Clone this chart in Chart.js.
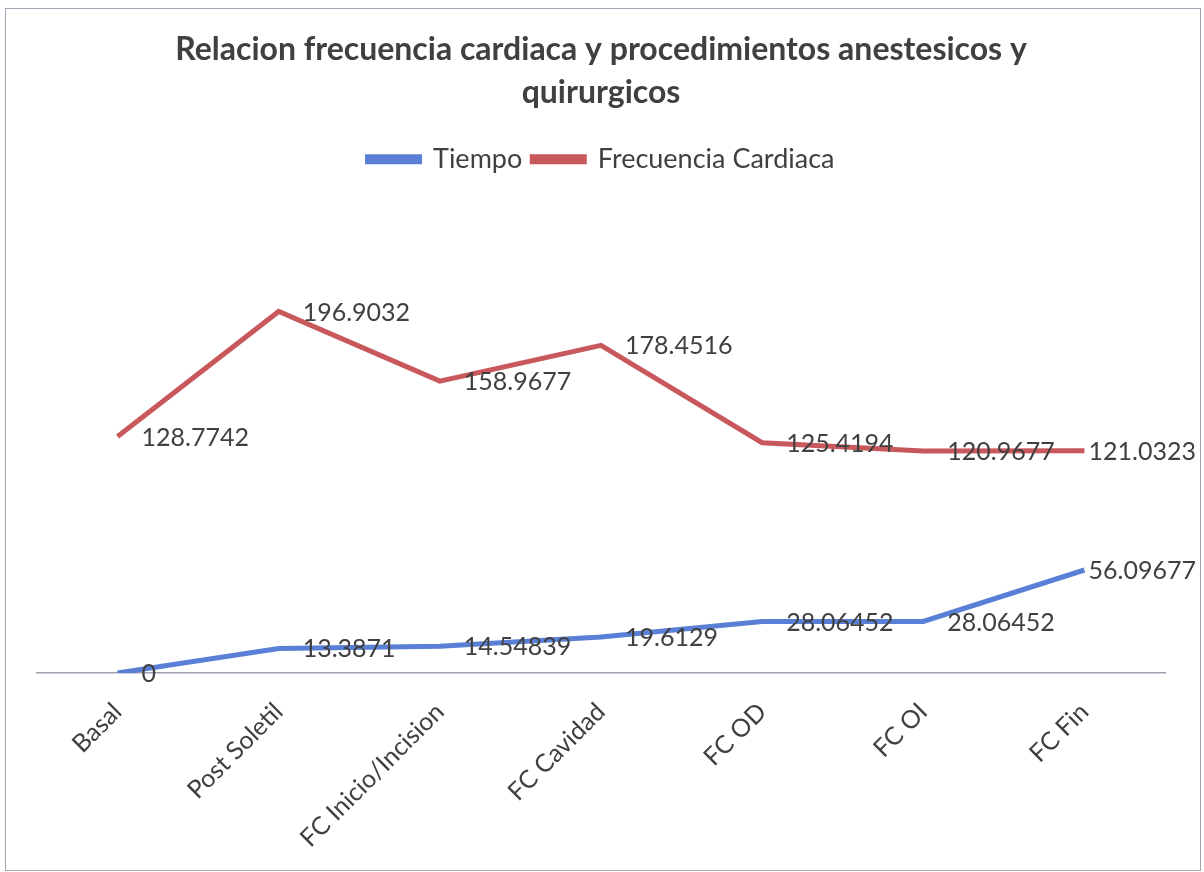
<!DOCTYPE html>
<html>
<head>
<meta charset="utf-8">
<script src="https://cdn.jsdelivr.net/npm/chart.js@4.4.1/dist/chart.umd.min.js"></script>
<style>
  html, body { margin: 0; padding: 0; background: #ffffff; }
  #wrap { position: relative; width: 1204px; height: 872px; }
  #frame { position: absolute; left: 5px; top: 8px; width: 1194px; height: 861px;
           border: 1.5px solid #a4a4b4; pointer-events: none; }
  canvas { position: absolute; left: 0; top: 0; }
</style>
</head>
<body>
<div id="wrap">
  <canvas id="c" width="1204" height="872"></canvas>
  <div id="frame"></div>
</div>
<script>
const categories = ["Basal", "Post Soletil", "FC Inicio/Incision", "FC Cavidad", "FC OD", "FC OI", "FC Fin"];
const tiempo = [0, 13.3871, 14.54839, 19.6129, 28.06452, 28.06452, 56.09677];
const frecuenciaCardiaca = [128.7742, 196.9032, 158.9677, 178.4516, 125.4194, 120.9677, 121.0323];
const tiempoLabels = ["0", "13.3871", "14.54839", "19.6129", "28.06452", "28.06452", "56.09677"];
const frecuenciaLabels = ["128.7742", "196.9032", "158.9677", "178.4516", "125.4194", "120.9677", "121.0323"];
const titleLines = ["Relacion frecuencia cardiaca y procedimientos anestesicos y", "quirurgicos"];

const FONT = "Lato, 'Open Sans', sans-serif";
const TEXT = "#404040";

const dataLabelPlugin = {
  id: "dataLabels",
  afterDatasetsDraw(chart) {
    const ctx = chart.ctx;
    const sets = [tiempoLabels, frecuenciaLabels];
    const rightLimit = chart.width - 8;
    ctx.save();
    ctx.font = "25px " + FONT;
    ctx.fillStyle = TEXT;
    ctx.textAlign = "left";
    ctx.textBaseline = "middle";
    chart.data.datasets.forEach((ds, i) => {
      const meta = chart.getDatasetMeta(i);
      meta.data.forEach((el, j) => {
        const t = sets[i][j];
        const w = ctx.measureText(t).width;
        const x = Math.min(el.x + 24, rightLimit - w);
        ctx.fillText(t, x, el.y + 1);
      });
    });
    ctx.restore();
  }
};

new Chart(document.getElementById("c"), {
  type: "line",
  data: {
    labels: categories,
    datasets: [
      { label: "Tiempo", data: tiempo, borderColor: "#5a7fd6", backgroundColor: "#5a7fd6",
        borderWidth: 5, pointRadius: 0, tension: 0 },
      { label: "Frecuencia Cardiaca", data: frecuenciaCardiaca, borderColor: "#c8585c", backgroundColor: "#c8585c",
        borderWidth: 5, pointRadius: 0, tension: 0 }
    ]
  },
  options: {
    responsive: false,
    animation: false,
    layout: { padding: { left: 37, right: 39, top: 0, bottom: 0 } },
    plugins: {
      title: {
        display: true,
        text: titleLines,
        color: TEXT,
        font: { family: FONT, size: 32, weight: "bold", lineHeight: 1.34 },
        padding: { top: 28, bottom: 22 }
      },
      legend: {
        display: true,
        position: "top",
        labels: {
          color: TEXT,
          font: { family: FONT, size: 27 },
          boxWidth: 52,
          boxHeight: 5,
          padding: 10
        }
      },
      tooltip: { enabled: false }
    },
    scales: {
      x: {
        offset: true,
        grid: { display: false },
        border: { display: true, color: "#a0a0b0", width: 1.5 },
        ticks: {
          color: TEXT,
          font: { family: FONT, size: 25 },
          minRotation: 45,
          maxRotation: 45,
          padding: 16
        },
        afterFit(scale) { scale.height = 199; }
      },
      y: {
        display: false,
        min: 0,
        max: 267
      }
    }
  },
  plugins: [dataLabelPlugin]
});
</script>
</body>
</html>
